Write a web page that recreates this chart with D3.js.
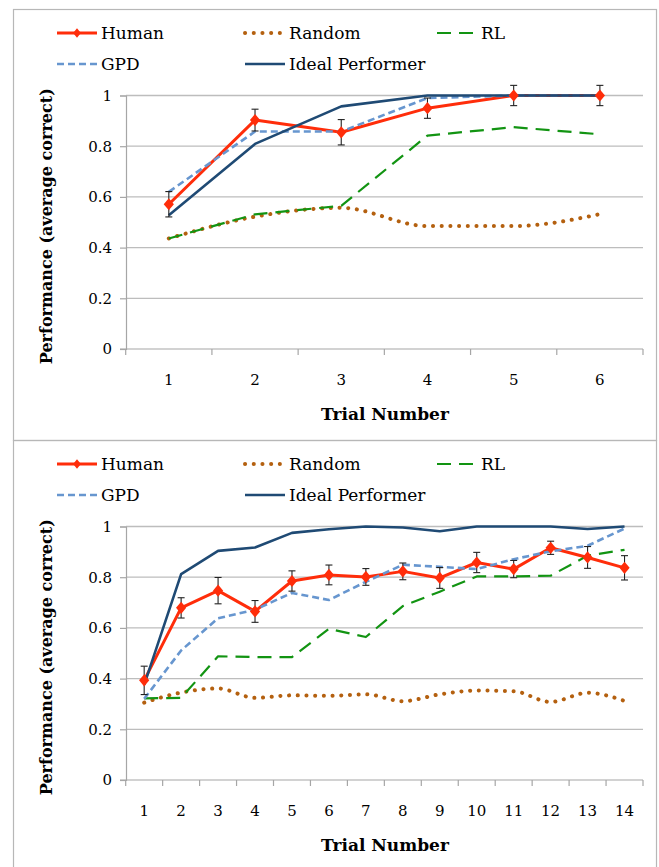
<!DOCTYPE html>
<html>
<head>
<meta charset="utf-8">
<script src="https://cdn.jsdelivr.net/npm/d3@7"></script>
<style>
  html, body { margin: 0; padding: 0; background: #fff; }
  svg text { font-family: "DejaVu Serif", serif; fill: #000; }
</style>
</head>
<body>
<div id="chart"></div>
<script>
// ---- data ----
const trialsTop = [1, 2, 3, 4, 5, 6];
const humanTop = [0.571, 0.903, 0.855, 0.95, 1.0, 1.0];
const humanTopErr = [0.05, 0.043, 0.05, 0.04, 0.04, 0.04];
const randomTop = [0.436, 0.522, 0.557, 0.485, 0.485, 0.532];
const rlTop = [0.436, 0.531, 0.565, 0.842, 0.875, 0.847];
const gpdTop = [0.62, 0.858, 0.858, 0.99, 1.0, 1.0];
const idealTop = [0.528, 0.809, 0.957, 1.0, 1.0, 1.0];

const trialsBottom = [1, 2, 3, 4, 5, 6, 7, 8, 9, 10, 11, 12, 13, 14];
const humanBottom = [0.393, 0.679, 0.747, 0.665, 0.785, 0.809, 0.801, 0.823, 0.797, 0.858, 0.832, 0.916, 0.878, 0.837];
const humanBottomErr = [0.056, 0.04, 0.052, 0.043, 0.04, 0.039, 0.033, 0.033, 0.041, 0.04, 0.034, 0.026, 0.043, 0.048];
const randomBottom = [0.305, 0.345, 0.361, 0.324, 0.334, 0.332, 0.338, 0.311, 0.338, 0.353, 0.35, 0.308, 0.344, 0.312];
const rlBottom = [0.322, 0.324, 0.488, 0.485, 0.485, 0.596, 0.564, 0.686, 0.743, 0.803, 0.803, 0.806, 0.885, 0.908];
const gpdBottom = [0.32, 0.511, 0.638, 0.672, 0.738, 0.71, 0.782, 0.849, 0.841, 0.832, 0.871, 0.902, 0.924, 0.992];
const idealBottom = [0.375, 0.812, 0.904, 0.917, 0.975, 0.989, 1.0, 0.996, 0.981, 1.0, 1.0, 1.0, 0.99, 1.0];

const yTicks = [0, 0.2, 0.4, 0.6, 0.8, 1];
const seriesNames = ['Human', 'Random', 'RL', 'GPD', 'Ideal Performer'];

const W = 659, H = 867;
const styles = {
  'Human': { color: '#ff2d0a', width: 3, dash: null },
  'Random': { color: '#b4600f', width: 4, dash: '0.1,8.6', cap: 'round' },
  'RL': { color: '#129412', width: 2.2, dash: '14,8' },
  'GPD': { color: '#6796cf', width: 2.6, dash: '7,4' },
  'Ideal Performer': { color: '#1f4a74', width: 2.6, dash: null },
};

const svg = d3.select('#chart').append('svg')
  .attr('width', W).attr('height', H);

// diamond = rotated square, stretched a little vertically
const diamond = size => d3.symbol(d3.symbolSquare, size)();

function drawPanel(top, bottom, trials, data, err) {
  const g = svg.append('g');

  // outer frame
  g.append('rect')
    .attr('x', 13.5).attr('y', top + 0.5)
    .attr('width', 643).attr('height', bottom - top)
    .attr('fill', 'none').attr('stroke', '#b7b7b7').attr('stroke-width', 1.2);

  // legend
  const legendPos = [
    { x: 57, y: top + 24 }, { x: 245, y: top + 24 }, { x: 437, y: top + 24 },
    { x: 57, y: top + 55 }, { x: 245, y: top + 55 },
  ];
  seriesNames.forEach((name, i) => {
    const p = legendPos[i], s = styles[name];
    const lg = g.append('g').attr('transform', `translate(${p.x},${p.y})`);
    lg.append('line')
      .attr('x1', 0).attr('x2', 40).attr('y1', 0).attr('y2', 0)
      .attr('stroke', s.color).attr('stroke-width', s.width)
      .attr('stroke-dasharray', s.dash)
      .attr('stroke-linecap', s.cap || 'butt');
    if (name === 'Human') {
      lg.append('path').attr('d', diamond(30))
        .attr('transform', 'translate(20,0) scale(1,1.2) rotate(45)')
        .attr('fill', s.color);
    }
    lg.append('text').attr('x', 44).attr('y', 0).attr('dy', '0.36em')
      .attr('font-size', 17).text(name);
  });

  // plot area
  const plotTop = top + 86.5, plotBottom = top + 340;
  const x = d3.scaleBand().domain(trials).range([125.7, 643]);
  const y = d3.scaleLinear().domain([0, 1]).range([plotBottom, plotTop]);
  const cx = d => x(d) + x.bandwidth() / 2;

  // gridlines
  g.append('g').selectAll('line').data(yTicks.slice(1)).join('line')
    .attr('x1', 126).attr('x2', 643)
    .attr('y1', d => y(d)).attr('y2', d => y(d))
    .attr('stroke', '#bdbdbd').attr('stroke-width', 1.3);

  // y axis
  g.append('g')
    .attr('transform', 'translate(126,0)')
    .call(d3.axisLeft(y).tickValues(yTicks).tickSize(6).tickPadding(8)
      .tickFormat(d => d === 0 || d === 1 ? d3.format('d')(d) : d3.format('.1f')(d)))
    .call(a => a.selectAll('path, line').attr('stroke', '#a6a6a6').attr('stroke-width', 1.2))
    .call(a => a.selectAll('text').attr('font-size', 15).attr('font-family', '"DejaVu Serif", serif'));

  // x axis (ticks between categories)
  const xa = g.append('g').attr('transform', `translate(0,${plotBottom})`);
  xa.append('line').attr('x1', 120).attr('x2', 643)
    .attr('stroke', '#a6a6a6').attr('stroke-width', 1.2);
  const bounds = trials.map(d => x(d)).concat([x(trials[trials.length - 1]) + x.bandwidth()]);
  xa.selectAll('line.tk').data(bounds).join('line').attr('class', 'tk')
    .attr('x1', d => d).attr('x2', d => d).attr('y1', 0).attr('y2', 6)
    .attr('stroke', '#a6a6a6').attr('stroke-width', 1.2);
  xa.selectAll('text').data(trials).join('text')
    .attr('x', d => cx(d)).attr('y', 31).attr('dy', '0.36em')
    .attr('text-anchor', 'middle').attr('font-size', 15).text(d => d);

  // axis titles
  g.append('text')
    .attr('transform', `translate(46,${(plotTop + plotBottom) / 2 + 4}) rotate(-90)`)
    .attr('text-anchor', 'middle').attr('dy', '0.36em')
    .attr('font-weight', 'bold').attr('font-size', 16)
    .text('Performance (average correct)');
  g.append('text')
    .attr('x', 385).attr('y', plotBottom + 65).attr('dy', '0.36em')
    .attr('text-anchor', 'middle').attr('font-weight', 'bold').attr('font-size', 17)
    .text('Trial Number');

  const straight = d3.line().x(d => cx(d[0])).y(d => y(d[1]));
  const smooth = d3.line().x(d => cx(d[0])).y(d => y(d[1])).curve(d3.curveMonotoneX);

  // series lines
  seriesNames.forEach(name => {
    const s = styles[name];
    const pts = trials.map((t, i) => [t, data[name][i]]);
    g.append('path').datum(pts)
      .attr('d', name === 'Random' ? smooth : straight)
      .attr('fill', 'none').attr('stroke', s.color).attr('stroke-width', s.width)
      .attr('stroke-dasharray', s.dash)
      .attr('stroke-linecap', s.cap || 'butt').attr('stroke-linejoin', 'round');
  });

  // error bars on Human
  const eb = g.append('g').attr('stroke', '#222').attr('stroke-width', 1.1);
  trials.forEach((t, i) => {
    const v = data['Human'][i], e = err[i];
    eb.append('line').attr('x1', cx(t)).attr('x2', cx(t))
      .attr('y1', y(v - e)).attr('y2', y(v + e));
    [v - e, v + e].forEach(c => {
      eb.append('line').attr('x1', cx(t) - 3.5).attr('x2', cx(t) + 3.5)
        .attr('y1', y(c)).attr('y2', y(c));
    });
  });

  // Human diamond markers
  g.append('g').selectAll('path').data(trials.map((t, i) => [t, data['Human'][i]])).join('path')
    .attr('d', diamond(52))
    .attr('transform', d => `translate(${cx(d[0])},${y(d[1])}) scale(1,1.2) rotate(45)`)
    .attr('fill', styles['Human'].color);
}

drawPanel(9, 440, trialsTop,
  { 'Human': humanTop, 'Random': randomTop, 'RL': rlTop, 'GPD': gpdTop, 'Ideal Performer': idealTop },
  humanTopErr);
drawPanel(440, 900, trialsBottom,
  { 'Human': humanBottom, 'Random': randomBottom, 'RL': rlBottom, 'GPD': gpdBottom, 'Ideal Performer': idealBottom },
  humanBottomErr);
</script>
</body>
</html>
